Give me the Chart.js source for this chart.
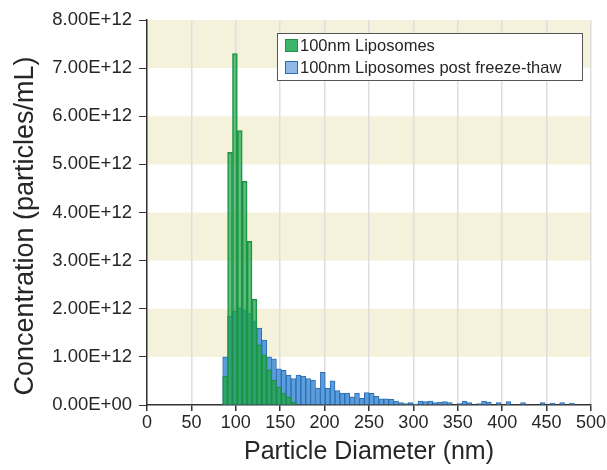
<!DOCTYPE html>
<html>
<head>
<meta charset="utf-8">
<script src="https://cdn.jsdelivr.net/npm/chart.js@4/dist/chart.umd.min.js"></script>
<style>
  html, body { margin: 0; padding: 0; background: #fff; }
  #wrap { width: 607px; height: 470px; }
</style>
</head>
<body>
<div id="wrap"><canvas id="sizeChart" width="607" height="470"></canvas></div>
<script>
// particle size bins, centre diameter in nm
const binCentres = [88, 93.5, 99, 104.5, 110, 115.5, 121, 126.5, 132, 137.5, 143, 148.5,
  154, 159.5, 165, 170.5, 176, 181.5, 187, 192.5, 198, 203.5, 209, 214.5, 220, 225.5,
  231, 236.5, 242, 247.5, 253, 258.5, 264, 269.5, 275, 280.5, 286, 291.5, 297, 302.5,
  308, 313.5, 319, 324.5, 330, 335.5, 341, 346.5, 352, 357.5, 363, 368.5, 374, 379.5,
  385, 390.5, 396, 401.5, 407, 412.5, 418, 423.5, 429, 434.5, 440, 445.5, 451, 456.5,
  462, 467.5, 473, 478.5];

// concentration per bin, in units of 1E+12 particles/mL
const freshConc = [0.6, 5.25, 7.3, 5.7, 4.65, 3.4, 2.2, 1.25, 1.04, 0.73, 0.52, 0.38,
  0.25, 0.17, 0.06];
const thawedConc = [1.0, 1.85, 1.95, 2.02, 1.98, 1.9, 1.75, 1.6, 1.35, 1.0, 0.96, 0.75,
  0.72, 0.62, 0.55, 0.62, 0.6, 0.55, 0.52, 0.35, 0.68, 0.35, 0.5, 0.3, 0.25, 0.25,
  0.17, 0.25, 0.14, 0.26, 0.24, 0.18, 0.13, 0.13, 0.12, 0.08, 0.05, 0.03, 0.05, 0.02,
  0.08, 0.07, 0.08, 0.05, 0.06, 0.07, 0.05, 0, 0.03, 0.08, 0.05, 0, 0.03, 0.08,
  0.06, 0, 0.05, 0, 0.07, 0, 0, 0.05, 0, 0, 0, 0.05, 0, 0.04, 0, 0.05, 0, 0.04];

const seriesNames = ['100nm Liposomes', '100nm Liposomes post freeze-thaw'];
const xTitle = 'Particle Diameter (nm)';
const yTitle = 'Concentration (particles/mL)';

const FONT = "'Liberation Sans', Arial, sans-serif";
Chart.defaults.font.family = FONT;
Chart.defaults.color = '#262626';

function toPoints(values) {
  return values.map((v, i) => ({ x: binCentres[i], y: v })).filter(p => p.y > 0);
}

function sciLabel(v) {
  if (v === 0) return '0.00E+00';
  return v.toFixed(2) + 'E+12';
}

// beige bands behind every other y interval
const bandPlugin = {
  id: 'bands',
  beforeDraw(chart) {
    const { ctx, chartArea: a, scales: { y } } = chart;
    ctx.save();
    ctx.fillStyle = '#f5f2dc';
    for (let v = y.min + 1; v < y.max; v += 2) {
      const top = y.getPixelForValue(v + 1);
      const bot = y.getPixelForValue(v);
      ctx.fillRect(a.left, top, a.right - a.left, bot - top);
    }
    ctx.restore();
  }
};

// y title drawn by hand so it can sit a little below the plot centre
const yTitlePlugin = {
  id: 'yTitle',
  afterDraw(chart) {
    const ctx = chart.ctx;
    ctx.save();
    ctx.translate(26, 226);
    ctx.rotate(-Math.PI / 2);
    ctx.font = '27px ' + FONT;
    ctx.textAlign = 'center';
    ctx.textBaseline = 'middle';
    ctx.fillStyle = '#262626';
    ctx.fillText(yTitle, 0, 0);
    ctx.restore();
  }
};

// boxed legend inside the plot, top right
const boxLegend = {
  id: 'boxLegend',
  afterDraw(chart) {
    const { ctx, chartArea: a } = chart;
    const w = 305, h = 47;
    const left = a.right - 9 - w, top = a.top + 13;
    ctx.save();
    ctx.fillStyle = '#fff';
    ctx.fillRect(left, top, w, h);
    ctx.strokeStyle = '#555';
    ctx.lineWidth = 1;
    ctx.strokeRect(left + 0.5, top + 0.5, w, h);
    ctx.font = '16.5px ' + FONT;
    ctx.textBaseline = 'middle';
    chart.data.datasets.forEach((ds, i) => {
      const cy = top + 12 + i * 22;
      ctx.fillStyle = ds.legendFill;
      ctx.fillRect(left + 8, cy - 6, 13, 13);
      ctx.strokeStyle = ds.borderColor;
      ctx.strokeRect(left + 8.5, cy - 5.5, 12, 12);
      ctx.fillStyle = '#262626';
      ctx.fillText(ds.label, left + 23, cy + 1);
    });
    ctx.restore();
  }
};

new Chart(document.getElementById('sizeChart'), {
  type: 'bar',
  data: {
    datasets: [{
      label: seriesNames[0],
      data: toPoints(freshConc),
      backgroundColor: 'rgba(30, 165, 72, 0.7)',
      legendFill: '#3cb56c',
      borderColor: '#1f9049',
      borderWidth: 1,
      order: 1
    }, {
      label: seriesNames[1],
      data: toPoints(thawedConc),
      backgroundColor: '#5a9dda',
      legendFill: '#8fb8e6',
      borderColor: '#2b6cb3',
      borderWidth: 1,
      order: 2
    }]
  },
  options: {
    responsive: false,
    animation: false,
    grouped: false,
    barPercentage: 1,
    categoryPercentage: 1,
    layout: { padding: { left: 0, right: 16, top: 20, bottom: 3 } },
    plugins: { legend: { display: false }, tooltip: { enabled: false } },
    scales: {
      x: {
        type: 'linear',
        min: 0,
        max: 500,
        offset: false,
        afterFit: s => { s.height = 62; },
        ticks: { stepSize: 50, font: { size: 18 }, padding: 1, maxRotation: 0 },
        grid: { offset: false, color: '#dedede', lineWidth: 1.5, tickColor: '#333', tickLength: 6 },
        border: { color: '#333', width: 1.5 },
        title: { display: true, text: xTitle, font: { size: 25 }, padding: 0 }
      },
      y: {
        min: 0,
        max: 8,
        afterFit: s => { s.width = 147; },
        ticks: { stepSize: 1, font: { size: 18.5 }, padding: 7, callback: v => sciLabel(v) },
        grid: { drawOnChartArea: false, tickColor: '#333', tickLength: 8 },
        border: { color: '#333', width: 1.5 },
        title: { display: false }
      }
    }
  },
  plugins: [bandPlugin, yTitlePlugin, boxLegend]
});
</script>
</body>
</html>
